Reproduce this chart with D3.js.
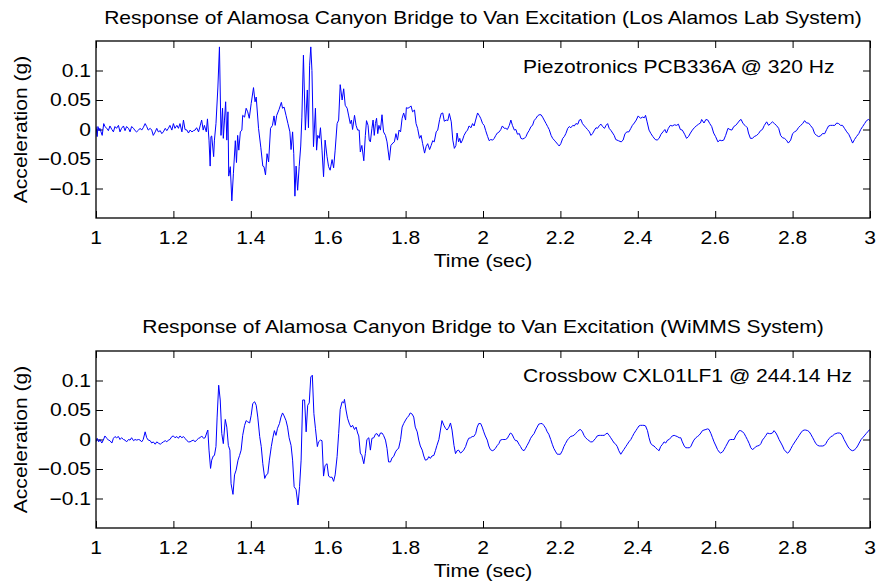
<!DOCTYPE html>
<html>
<head>
<meta charset="utf-8">
<title>Alamosa Canyon Bridge response</title>
<script src="https://d3js.org/d3.v7.min.js"></script>
<style>
  body { margin: 0; padding: 0; background: #fff; }
  svg text { font-family: "Liberation Sans", Arial, Helvetica, sans-serif; fill: #000; }
</style>
</head>
<body>
<div id="chart"></div>
<script>

// ---- data ----
var xTicks = [1, 1.2, 1.4, 1.6, 1.8, 2, 2.2, 2.4, 2.6, 2.8, 3];
var xTickLabels = ["1", "1.2", "1.4", "1.6", "1.8", "2", "2.2", "2.4", "2.6", "2.8", "3"];
var yTicks = [-0.1, -0.05, 0, 0.05, 0.1];
var yTickLabels = ["\u22120.1", "\u22120.05", "0", "0.05", "0.1"];

var titles = [
  "Response of Alamosa Canyon Bridge to Van Excitation (Los Alamos Lab System)",
  "Response of Alamosa Canyon Bridge to Van Excitation (WiMMS System)"
];
var sensors = ["Piezotronics PCB336A @ 320 Hz", "Crossbow CXL01LF1 @ 244.14 Hz"];

// [time (s), acceleration (g)]
var piezo = [
  [1.000,0.005],[1.003,-0.012],[1.005,0.005],[1.008,-0.002],[1.010,0.002],[1.013,-0.004],[1.016,-0.010],[1.020,0.010],
  [1.023,0.005],[1.028,0.002],[1.032,-0.002],[1.036,0.006],[1.041,0.000],[1.045,-0.004],[1.049,0.005],[1.053,0.002],
  [1.058,0.007],[1.062,-0.004],[1.066,0.002],[1.071,0.006],[1.075,-0.002],[1.079,0.005],[1.084,0.002],[1.088,-0.004],
  [1.092,0.005],[1.097,0.002],[1.101,-0.002],[1.105,-0.004],[1.110,-0.001],[1.114,0.002],[1.118,-0.001],[1.122,0.003],
  [1.127,0.010],[1.131,0.005],[1.135,-0.001],[1.140,0.002],[1.144,-0.001],[1.148,-0.010],[1.153,-0.004],[1.157,0.002],
  [1.161,-0.004],[1.166,-0.002],[1.170,-0.007],[1.174,-0.004],[1.179,0.002],[1.183,-0.002],[1.187,0.002],[1.191,0.007],
  [1.196,-0.001],[1.200,0.010],[1.204,0.002],[1.209,0.007],[1.213,0.002],[1.217,0.010],[1.222,-0.004],[1.226,0.016],
  [1.230,0.000],[1.235,-0.001],[1.239,-0.006],[1.243,-0.001],[1.248,-0.004],[1.252,-0.002],
  [1.256,-0.001],[1.260,0.003],[1.265,-0.004],[1.269,0.006],[1.273,0.016],[1.277,-0.001],[1.280,0.007],[1.285,-0.004],
  [1.288,0.018],[1.292,-0.018],[1.295,-0.062],[1.297,-0.012],[1.299,-0.011],[1.304,-0.046],[1.306,-0.018],[1.310,0.010],
  [1.315,0.072],[1.319,0.140],[1.323,-0.010],[1.327,0.036],[1.329,-0.015],[1.332,0.016],[1.335,0.047],[1.338,-0.018],
  [1.341,0.030],[1.343,-0.079],[1.347,-0.063],[1.351,-0.121],[1.355,-0.075],[1.360,-0.019],[1.363,-0.056],[1.366,-0.010],
  [1.369,-0.035],[1.373,-0.004],[1.377,-0.001],[1.379,0.024],[1.384,0.021],[1.388,0.036],[1.392,0.030],[1.396,0.019],
  [1.401,0.044],[1.407,0.071],[1.411,0.047],[1.414,0.055],[1.420,0.002],[1.426,-0.031],[1.431,-0.062],[1.434,-0.063],
  [1.438,-0.077],[1.442,-0.041],[1.446,-0.055],[1.451,0.002],[1.456,0.007],[1.460,0.023],[1.463,0.007],[1.467,0.024],
  [1.473,0.034],[1.479,0.046],[1.482,0.036],[1.486,0.038],[1.491,0.024],[1.496,0.010],[1.501,-0.004],[1.504,-0.034],
  [1.508,-0.004],[1.511,-0.041],[1.514,-0.113],[1.517,-0.062],[1.521,-0.103],[1.525,-0.063],[1.529,-0.028],[1.532,0.021],
  [1.536,0.126],[1.541,-0.001],[1.546,0.067],[1.549,0.003],[1.552,0.109],[1.555,0.140],[1.558,0.100],[1.562,-0.029],
  [1.567,0.036],[1.570,-0.035],[1.573,-0.010],[1.577,-0.015],[1.580,0.003],[1.584,-0.035],[1.588,-0.080],[1.592,-0.018],
  [1.597,-0.046],[1.601,-0.063],[1.605,-0.069],[1.610,-0.051],[1.614,-0.065],[1.618,-0.035],[1.623,0.010],[1.627,0.016],
  [1.631,0.076],[1.636,0.050],[1.640,0.069],[1.644,0.041],[1.649,0.036],[1.653,0.023],[1.657,0.010],[1.660,0.016],
  [1.663,0.000],[1.668,0.024],[1.672,0.007],[1.676,-0.001],[1.680,-0.001],[1.683,-0.038],[1.687,-0.027],[1.692,-0.053],
  [1.696,-0.010],[1.699,0.015],[1.703,0.007],[1.706,-0.018],
  [1.709,-0.021],[1.713,0.002],[1.716,0.016],[1.719,-0.010],[1.722,0.010],[1.725,0.019],[1.728,-0.007],[1.731,0.007],
  [1.735,-0.001],[1.739,0.025],[1.743,-0.004],[1.748,-0.010],[1.752,-0.021],[1.758,-0.052],[1.762,-0.027],[1.767,-0.023],
  [1.771,-0.021],[1.775,-0.007],[1.779,-0.018],[1.783,-0.001],[1.787,-0.004],[1.791,0.019],[1.795,0.028],[1.800,0.016],
  [1.802,0.037],[1.806,0.036],[1.811,0.038],[1.814,0.040],[1.818,0.030],[1.823,0.033],[1.827,0.010],[1.831,0.002],
  [1.836,-0.015],[1.840,-0.010],[1.844,-0.024],[1.849,-0.040],[1.853,-0.029],[1.857,-0.024],[1.862,-0.034],[1.866,-0.027],
  [1.870,-0.019],[1.874,-0.021],[1.879,-0.004],[1.883,-0.001],[1.888,0.017],[1.892,0.027],[1.896,0.028],[1.900,0.014],
  [1.905,0.016],[1.909,0.015],[1.913,0.027],[1.918,0.013],[1.922,-0.018],[1.926,-0.032],[1.930,-0.027],[1.933,-0.006],
  [1.937,-0.021],[1.940,-0.015],[1.943,-0.023],[1.947,-0.018],[1.951,-0.010],[1.956,-0.004],[1.960,-0.001],[1.964,0.006],
  [1.969,0.003],[1.973,0.010],[1.977,0.006],[1.981,0.016],[1.986,0.028],[1.990,0.024],[1.994,0.019],[1.999,0.010],
  [2.003,0.007],[2.007,-0.002],[2.012,-0.012],[2.016,-0.019],[2.020,-0.017],[2.025,-0.018],[2.029,-0.015],[2.033,-0.010],
  [2.037,-0.006],[2.042,-0.004],[2.046,0.000],[2.050,0.006],[2.055,0.002],[2.059,0.002],[2.063,0.000],[2.068,0.007],
  [2.072,0.016],[2.076,0.007],[2.081,-0.001],[2.085,0.000],[2.089,-0.008],[2.094,-0.007],[2.098,-0.015],[2.102,-0.016],
  [2.107,-0.015],[2.111,-0.012],[2.115,-0.006],[2.119,-0.002],[2.124,0.005],[2.128,0.007],[2.132,0.015],[2.137,0.019],
  [2.141,0.023],[2.145,0.025],[2.150,0.025],[2.154,0.021],[2.158,0.016],[2.163,0.010],[2.167,0.005],[2.171,0.000],
  [2.176,-0.010],[2.180,-0.015],[2.184,-0.018],[2.188,-0.021],[2.193,-0.025],[2.197,-0.028],[2.201,-0.024],[2.206,-0.015],
  [2.210,-0.012],[2.214,-0.007],[2.219,0.002],[2.223,0.005],[2.227,0.003],[2.232,0.007],[2.236,0.006],[2.240,0.010],
  [2.245,0.009],[2.249,0.016],[2.253,0.017],[2.257,0.010],[2.262,0.006],[2.266,0.003],[2.270,0.000],[2.275,-0.004],
  [2.279,-0.010],[2.283,-0.007],[2.288,-0.001],[2.292,0.003],[2.296,0.002],[2.301,0.007],[2.305,0.009],[2.309,0.005],
  [2.314,0.002],[2.318,0.007],[2.322,0.010],[2.326,0.002],[2.331,-0.002],[2.335,-0.006],[2.339,-0.010],
  [2.343,-0.017],[2.350,-0.019],[2.357,-0.021],[2.362,-0.018],[2.367,-0.007],[2.372,-0.004],[2.377,-0.004],[2.382,0.002],
  [2.386,0.007],[2.391,0.011],[2.396,0.016],[2.401,0.023],[2.407,0.019],[2.412,0.021],[2.417,0.020],[2.420,0.024],
  [2.424,0.013],[2.429,-0.001],[2.434,-0.007],[2.439,-0.012],[2.445,-0.017],[2.450,-0.018],[2.455,-0.015],[2.460,-0.008],
  [2.465,-0.004],[2.470,0.000],[2.474,-0.006],[2.479,0.002],[2.484,0.007],[2.489,0.006],[2.495,0.008],[2.500,0.007],
  [2.505,0.009],[2.510,0.000],[2.515,-0.001],[2.521,-0.008],[2.526,-0.015],[2.531,-0.012],[2.536,-0.006],[2.541,-0.001],
  [2.546,0.003],[2.551,0.006],[2.557,0.009],[2.562,0.011],[2.565,0.017],[2.571,0.011],[2.576,0.017],[2.581,0.016],
  [2.586,0.010],[2.591,0.005],[2.596,-0.006],[2.601,-0.012],[2.607,-0.021],[2.612,-0.018],[2.617,-0.019],[2.622,-0.018],
  [2.627,-0.010],[2.633,0.002],[2.638,0.000],[2.643,-0.001],[2.648,0.005],[2.653,0.007],[2.658,0.011],[2.664,0.016],
  [2.667,0.017],[2.672,0.010],[2.677,0.007],[2.683,0.003],[2.686,-0.006],[2.691,-0.015],[2.696,-0.015],[2.701,-0.012],
  [2.707,-0.010],[2.712,-0.007],[2.717,-0.002],[2.722,0.000],[2.727,0.007],[2.733,0.013],[2.738,0.007],[2.743,0.010],
  [2.748,0.013],[2.753,0.010],[2.758,0.007],[2.764,0.002],[2.769,-0.010],[2.774,-0.014],[2.779,-0.015],[2.784,-0.018],
  [2.789,-0.023],[2.795,-0.018],[2.800,-0.007],[2.805,-0.004],[2.810,-0.002],[2.815,0.003],[2.821,0.007],[2.826,0.010],
  [2.831,0.015],[2.836,0.011],[2.841,0.011],[2.846,0.007],[2.852,0.002],[2.857,-0.007],[2.862,-0.010],[2.867,-0.012],
  [2.872,-0.011],[2.877,-0.007],[2.883,-0.007],[2.888,0.000],[2.893,0.006],[2.898,0.007],[2.903,0.007],[2.909,0.007],
  [2.914,0.011],[2.919,0.010],[2.924,0.007],[2.929,0.007],[2.934,0.002],[2.940,-0.004],[2.945,-0.008],[2.950,-0.015],
  [2.955,-0.023],[2.960,-0.017],[2.965,-0.012],[2.971,-0.007],[2.976,0.000],[2.981,0.005],[2.986,0.010],[2.991,0.015],
  [2.996,0.017],[3.000,0.015]
];

var crossbow = [
  [1.000,-0.004],[1.003,0.002],[1.007,-0.004],[1.010,0.000],[1.015,-0.006],[1.019,-0.001],[1.023,0.006],[1.028,0.002],
  [1.032,-0.001],[1.036,-0.002],[1.041,-0.006],[1.045,0.002],[1.049,0.005],[1.053,0.003],[1.058,0.005],[1.062,0.000],
  [1.066,0.003],[1.071,0.000],[1.075,-0.001],[1.079,-0.004],[1.084,0.000],[1.088,-0.001],[1.092,0.003],[1.097,-0.002],
  [1.101,0.000],[1.105,-0.001],[1.110,0.000],[1.114,-0.001],[1.118,-0.004],[1.122,0.000],[1.127,0.013],[1.131,0.003],
  [1.135,-0.001],[1.140,-0.002],[1.144,-0.006],[1.148,-0.004],[1.153,-0.008],[1.157,-0.004],[1.161,-0.006],[1.166,-0.008],
  [1.170,-0.006],[1.174,-0.004],[1.179,-0.002],[1.183,-0.004],[1.187,-0.001],[1.191,0.000],[1.196,0.005],[1.200,0.006],
  [1.204,0.003],[1.209,0.005],[1.213,0.002],[1.217,0.006],[1.222,0.003],[1.226,0.005],[1.230,0.002],[1.235,-0.002],
  [1.239,-0.004],[1.243,-0.004],[1.248,-0.002],[1.252,-0.001],
  [1.256,-0.004],[1.260,-0.001],[1.265,0.002],[1.269,0.003],[1.273,0.006],[1.278,0.002],[1.282,0.003],[1.286,0.011],
  [1.289,0.016],[1.292,-0.018],[1.296,-0.049],[1.299,-0.035],[1.303,-0.028],[1.306,-0.027],[1.310,-0.012],[1.313,0.038],
  [1.317,0.092],[1.321,0.067],[1.325,0.010],[1.329,-0.007],[1.334,0.034],[1.338,0.021],[1.342,-0.010],[1.346,-0.018],
  [1.349,-0.075],[1.354,-0.093],[1.358,-0.060],[1.362,-0.052],[1.367,-0.035],[1.371,-0.027],[1.375,-0.018],[1.379,0.007],
  [1.384,0.024],[1.388,0.032],[1.392,0.030],[1.397,0.028],[1.401,0.041],[1.405,0.061],[1.410,0.064],[1.414,0.058],
  [1.418,0.038],[1.423,0.005],[1.427,-0.012],[1.431,-0.041],[1.436,-0.066],[1.440,-0.060],[1.444,-0.058],[1.448,-0.035],
  [1.453,-0.012],[1.457,0.003],[1.461,0.015],[1.465,0.007],[1.469,0.019],[1.474,0.027],[1.478,0.038],[1.482,0.045],
  [1.486,0.040],[1.491,0.032],[1.495,0.021],[1.499,0.003],[1.504,-0.010],[1.508,-0.035],[1.512,-0.080],[1.517,-0.085],
  [1.522,-0.111],[1.526,-0.080],[1.530,-0.035],[1.534,0.067],[1.539,0.067],[1.543,0.013],[1.547,0.058],[1.551,0.062],
  [1.555,0.106],[1.559,0.109],[1.563,0.044],[1.567,0.019],[1.572,-0.012],[1.575,-0.004],[1.580,-0.001],[1.584,-0.002],
  [1.588,-0.062],[1.592,-0.044],[1.597,-0.041],[1.601,-0.062],[1.605,-0.064],[1.610,-0.064],[1.614,-0.071],[1.618,-0.060],
  [1.623,-0.029],[1.627,0.010],[1.631,0.051],[1.636,0.064],[1.640,0.062],[1.642,0.068],[1.646,0.050],[1.650,0.036],
  [1.655,0.026],[1.659,0.021],[1.663,0.024],[1.668,0.017],[1.672,0.021],[1.676,0.011],[1.679,0.006],[1.683,-0.023],
  [1.687,-0.027],[1.692,-0.041],[1.696,-0.024],[1.700,0.000],[1.705,0.003],
  [1.709,-0.018],[1.713,0.002],[1.718,0.003],[1.722,0.009],[1.726,0.010],[1.731,0.005],[1.735,0.011],[1.739,0.011],
  [1.743,0.007],[1.748,-0.001],[1.752,-0.015],[1.756,-0.038],[1.761,-0.038],[1.765,-0.031],[1.769,-0.029],[1.774,-0.021],
  [1.778,-0.017],[1.782,-0.015],[1.787,0.000],[1.791,0.021],[1.795,0.027],[1.800,0.033],[1.804,0.037],[1.808,0.040],
  [1.812,0.045],[1.817,0.043],[1.821,0.038],[1.825,0.021],[1.830,0.013],[1.834,-0.001],[1.838,-0.011],[1.843,-0.018],
  [1.847,-0.028],[1.851,-0.035],[1.856,-0.034],[1.860,-0.029],[1.864,-0.032],[1.868,-0.028],[1.873,-0.027],[1.877,-0.019],
  [1.881,-0.010],[1.886,0.000],[1.890,0.016],[1.894,0.032],[1.899,0.024],[1.903,0.019],[1.907,0.016],[1.912,0.021],
  [1.916,0.028],[1.920,0.016],[1.925,-0.010],[1.929,-0.024],[1.933,-0.019],[1.937,-0.018],[1.942,-0.023],[1.946,-0.021],
  [1.950,-0.018],[1.955,-0.012],[1.959,-0.004],[1.963,0.002],[1.968,0.003],[1.972,0.005],[1.976,0.005],[1.981,0.010],
  [1.985,0.021],[1.989,0.027],[1.994,0.027],[1.998,0.021],[2.002,0.013],[2.006,0.006],[2.011,-0.001],[2.015,-0.011],
  [2.019,-0.017],[2.024,-0.019],[2.028,-0.018],[2.032,-0.015],[2.037,-0.010],[2.041,-0.007],[2.045,-0.001],[2.050,0.000],
  [2.054,0.000],[2.058,0.000],[2.063,0.002],[2.067,0.007],[2.071,0.011],[2.075,0.009],[2.080,0.002],[2.084,-0.002],
  [2.088,-0.002],[2.093,-0.008],[2.097,-0.012],[2.101,-0.017],[2.106,-0.019],[2.110,-0.015],[2.114,-0.010],[2.119,-0.004],
  [2.123,0.002],[2.127,0.006],[2.132,0.010],[2.136,0.016],[2.140,0.021],[2.144,0.026],[2.149,0.027],[2.153,0.027],
  [2.157,0.024],[2.162,0.019],[2.166,0.013],[2.170,0.009],[2.175,0.000],[2.179,-0.008],[2.183,-0.015],[2.188,-0.021],
  [2.192,-0.025],[2.196,-0.025],[2.200,-0.025],[2.205,-0.019],[2.209,-0.012],[2.213,-0.007],[2.218,-0.001],[2.222,0.002],
  [2.226,0.005],[2.231,0.006],[2.235,0.007],[2.239,0.010],[2.244,0.013],[2.248,0.016],[2.252,0.017],[2.257,0.013],
  [2.261,0.007],[2.265,0.003],[2.270,0.000],[2.274,-0.002],[2.278,-0.004],[2.283,-0.004],[2.287,-0.001],[2.291,0.002],
  [2.295,0.006],[2.300,0.007],[2.304,0.007],[2.308,0.007],[2.313,0.007],[2.317,0.009],[2.321,0.011],[2.326,0.007],
  [2.330,0.003],[2.334,-0.001],[2.339,-0.006],
  [2.343,-0.008],[2.347,-0.012],[2.351,-0.019],[2.356,-0.025],[2.360,-0.021],[2.364,-0.017],[2.369,-0.012],[2.373,-0.008],
  [2.377,-0.004],[2.382,0.000],[2.386,0.005],[2.390,0.010],[2.395,0.015],[2.399,0.019],[2.403,0.023],[2.407,0.024],
  [2.412,0.024],[2.416,0.024],[2.420,0.023],[2.425,0.015],[2.429,0.003],[2.433,-0.006],[2.438,-0.010],[2.442,-0.011],
  [2.446,-0.014],[2.451,-0.017],[2.455,-0.019],[2.459,-0.012],[2.464,-0.008],[2.468,-0.004],[2.472,-0.006],[2.477,-0.001],
  [2.481,0.000],[2.485,0.003],[2.489,0.006],[2.494,0.007],[2.498,0.006],[2.502,0.005],[2.507,0.003],[2.511,0.003],
  [2.515,-0.004],[2.520,-0.011],[2.524,-0.014],[2.528,-0.014],[2.533,-0.014],[2.537,-0.012],[2.541,-0.006],[2.545,-0.001],
  [2.550,0.003],[2.554,0.005],[2.558,0.007],[2.563,0.011],[2.567,0.015],[2.571,0.016],[2.576,0.017],[2.580,0.018],
  [2.584,0.017],[2.589,0.010],[2.593,0.003],[2.597,-0.004],[2.602,-0.011],[2.606,-0.017],[2.610,-0.021],[2.614,-0.023],
  [2.619,-0.021],[2.623,-0.017],[2.627,-0.012],[2.632,-0.006],[2.636,-0.001],[2.640,0.000],[2.645,0.000],[2.649,0.000],
  [2.653,0.006],[2.658,0.011],[2.662,0.015],[2.666,0.015],[2.671,0.013],[2.675,0.010],[2.679,0.005],[2.683,0.000],
  [2.688,-0.007],[2.692,-0.014],[2.696,-0.017],[2.701,-0.015],[2.705,-0.012],[2.709,-0.011],[2.714,-0.010],[2.718,-0.007],
  [2.722,-0.001],[2.727,0.003],[2.731,0.007],[2.735,0.011],[2.740,0.010],[2.744,0.010],[2.748,0.011],[2.752,0.015],
  [2.757,0.011],[2.761,0.006],[2.765,0.000],[2.770,-0.006],[2.774,-0.011],[2.778,-0.017],[2.783,-0.021],[2.787,-0.023],
  [2.791,-0.021],[2.796,-0.015],[2.800,-0.010],[2.804,-0.006],[2.809,-0.001],[2.813,0.003],[2.817,0.007],[2.821,0.011],
  [2.826,0.015],[2.830,0.016],[2.834,0.016],[2.839,0.015],[2.843,0.013],[2.847,0.009],[2.852,0.003],[2.856,-0.002],
  [2.860,-0.007],[2.865,-0.010],[2.869,-0.011],[2.873,-0.011],[2.878,-0.011],[2.882,-0.010],[2.886,-0.007],[2.890,-0.002],
  [2.895,0.002],[2.899,0.005],[2.903,0.006],[2.908,0.009],[2.912,0.010],[2.916,0.011],[2.921,0.011],[2.925,0.010],
  [2.929,0.006],[2.933,0.000],[2.938,-0.006],[2.942,-0.011],[2.946,-0.015],[2.951,-0.018],[2.955,-0.019],[2.959,-0.018],
  [2.964,-0.015],[2.968,-0.011],[2.972,-0.006],[2.977,0.000],[2.981,0.003],[2.985,0.006],[2.990,0.010],[2.994,0.013],
  [2.998,0.016],[3.000,0.017]
];

// ---- layout ----
var W = 878, H = 587;
var FS = 18, SX = 1.17;   // font size, horizontal stretch of the text
var left = 96, right = 870;
var panels = [
  { top: 41,  bottom: 218, data: piezo,    title: titles[0], note: sensors[0], titleY: 24,  noteY: 72.5,  xlabY: 267 },
  { top: 351, bottom: 528, data: crossbow, title: titles[1], note: sensors[1], titleY: 333, noteY: 381.5, xlabY: 577 }
];

var svg = d3.select("#chart").append("svg")
  .attr("width", W)
  .attr("height", H);

// stretched text helper
function label(g, str, x, y, anchor, rot) {
  var t = g.append("text")
    .attr("text-anchor", anchor)
    .attr("font-size", FS)
    .text(str);
  if (rot) t.attr("transform", "translate(" + x + "," + y + ") rotate(-90) scale(" + SX + ",1)");
  else t.attr("transform", "translate(" + x + "," + y + ") scale(" + SX + ",1)");
  return t;
}

var x = d3.scaleLinear().domain([1, 3]).range([left, right]);

panels.forEach(function(p, i) {
  var y = d3.scaleLinear().domain([-0.15, 0.15]).range([p.bottom, p.top]);
  var g = svg.append("g");

  g.append("clipPath").attr("id", "clip" + i)
    .append("rect")
    .attr("x", left).attr("y", p.top)
    .attr("width", right - left).attr("height", p.bottom - p.top);

  // ticks on all four sides, pointing in
  var axes = [
    [d3.axisBottom(x), "translate(0," + p.bottom + ")", xTicks],
    [d3.axisTop(x),    "translate(0," + p.top + ")",    xTicks],
    [d3.axisLeft(y),   "translate(" + left + ",0)",     yTicks],
    [d3.axisRight(y),  "translate(" + right + ",0)",    yTicks]
  ];
  axes.forEach(function(a) {
    var ax = g.append("g").attr("transform", a[1])
      .call(a[0].tickValues(a[2]).tickSize(-7).tickFormat(""));
    ax.select(".domain").remove();
    ax.selectAll(".tick line").attr("stroke", "#000").attr("stroke-width", 1);
  });

  g.append("path")
    .datum(p.data)
    .attr("clip-path", "url(#clip" + i + ")")
    .attr("fill", "none")
    .attr("stroke", "#0000ff")
    .attr("stroke-width", 1)
    .attr("stroke-linejoin", "round")
    .attr("d", d3.line().x(function(d) { return x(d[0]); }).y(function(d) { return y(d[1]); }));

  g.append("rect")
    .attr("x", left).attr("y", p.top)
    .attr("width", right - left).attr("height", p.bottom - p.top)
    .attr("fill", "none").attr("stroke", "#000").attr("stroke-width", 1.3);

  xTicks.forEach(function(v, k) {
    label(g, xTickLabels[k], x(v), p.bottom + 26, "middle");
  });
  yTicks.forEach(function(v, k) {
    label(g, yTickLabels[k], left - 5, y(v) + 6, "end");
  });

  label(g, p.title, (left + right) / 2, p.titleY, "middle");
  label(g, p.note, 523, p.noteY, "start");
  label(g, "Time (sec)", (left + right) / 2, p.xlabY, "middle");
  label(g, "Acceleration (g)", 27, (p.top + p.bottom) / 2, "middle", true);
});

</script>
</body>
</html>
